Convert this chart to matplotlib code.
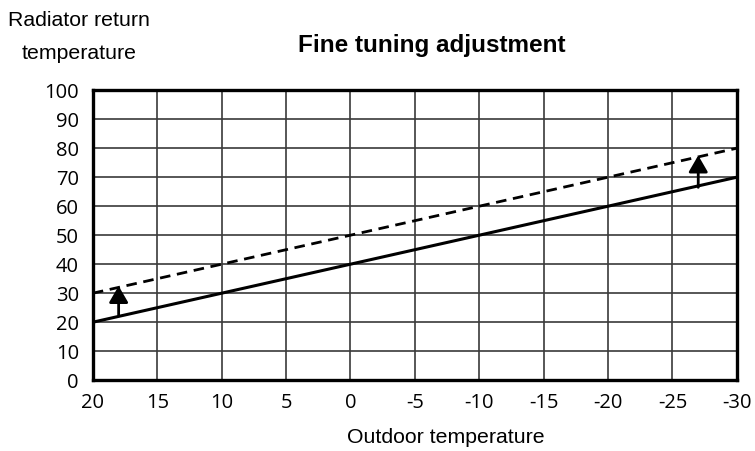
import matplotlib.pyplot as plt

# data
outdoor = [20, -30]
base_curve = [20, 70]
tuned_curve = [30, 80]
arrow_x = [18, -27]
arrow_from = [22.5, 66.5]
arrow_to = [32.5, 77.5]
x_ticks = [20, 15, 10, 5, 0, -5, -10, -15, -20, -25, -30]
y_ticks = list(range(0, 101, 10))

fig = plt.figure(figsize=(7.55, 4.51), dpi=100)
ax = fig.add_axes([0.123, 0.157, 0.853, 0.643])

ax.plot(outdoor, base_curve, color="black", lw=2.2, solid_capstyle="butt", zorder=3)
ax.plot(outdoor, tuned_curve, color="black", lw=2.0, ls=(0, (3.8, 2.4)), zorder=3)

for x, y0, y1 in zip(arrow_x, arrow_from, arrow_to):
    ax.annotate("", xy=(x, y1), xytext=(x, y0),
                arrowprops=dict(arrowstyle="-|>,head_length=1.0,head_width=0.58",
                                color="black", lw=2.0, shrinkA=0, shrinkB=0),
                zorder=4)

ax.set_xlim(20, -30)
ax.set_ylim(0, 100)
ax.set_xticks(x_ticks)
ax.set_yticks(y_ticks)
ax.set_xticklabels([str(v) for v in x_ticks])
ax.grid(True, color="#3a3a3a", lw=1.2)
ax.set_axisbelow(True)
ax.tick_params(length=0, labelsize=14.5)
ax.tick_params(axis="x", pad=9)
ax.tick_params(axis="y", pad=10)
for lab in ax.get_xticklabels() + ax.get_yticklabels():
    lab.set_family("Open Sans")
for sp in ax.spines.values():
    sp.set_linewidth(2.4)

fig.text(0.572, 0.9, "Fine tuning adjustment", ha="center", va="center",
         fontsize=17.5, fontweight="bold", family="Liberation Sans")
fig.text(0.105, 0.955, "Radiator return", ha="center", va="center",
         fontsize=15.3, family="Liberation Sans")
fig.text(0.105, 0.882, "temperature", ha="center", va="center",
         fontsize=15.3, family="Liberation Sans")
fig.text(0.591, 0.029, "Outdoor temperature", ha="center", va="center",
         fontsize=15.3, family="Liberation Sans")

fig.savefig("out.png", dpi=100)
